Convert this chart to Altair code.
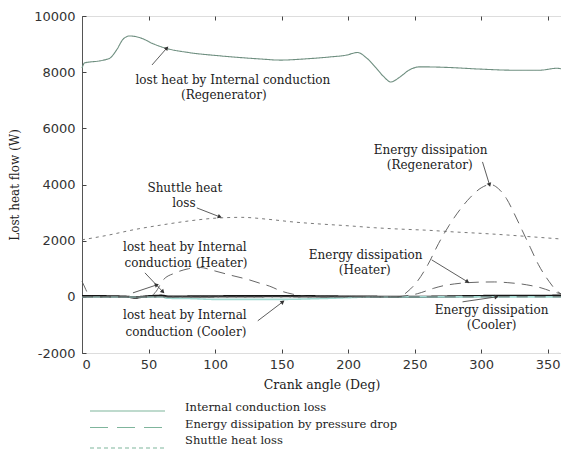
import math
import altair as alt
import pandas as pd

# ---- crank angle (deg) / heat flow (W) series ----
cond_regen_deg = [0, 2, 13, 18, 21, 26, 31, 36, 44, 54, 64, 80, 104, 134, 149, 170, 186, 199, 207,
                  214, 221, 227, 232, 239, 246, 254, 274, 299, 324, 344, 357, 360]
cond_regen_val = [8150, 8330, 8400, 8450, 8500, 8790, 9180, 9290, 9220, 9000, 8840, 8700, 8580, 8470,
                  8430, 8480, 8540, 8610, 8700, 8500, 8150, 7830, 7650, 7830, 8080, 8190, 8170, 8110,
                  8070, 8070, 8140, 8120]

cond_heater_deg = [0, 20, 35, 40, 45, 60, 65, 100, 150, 200, 250, 300, 360]
cond_heater_val = [30, 20, 0, -30, 0, 40, 10, 20, 30, 10, 0, 30, 40]

cond_cooler_deg = [0, 60, 64, 80, 100, 150, 180, 200, 215, 225, 360]
cond_cooler_val = [0, 0, -50, -60, -90, -90, -60, -30, -5, 0, 0]

diss_regen_deg = [0, 100, 200, 238, 245, 252, 260, 268, 276, 284, 292, 300, 307, 313, 319, 325,
                  331, 337, 343, 351, 356, 360]
diss_regen_val = [0, 0, 0, 0, 200, 550, 1150, 1900, 2550, 3100, 3550, 3880, 4000, 3850, 3500, 2950,
                  2350, 1750, 1150, 550, 250, 100]

diss_heater_deg = [0, 2, 4, 6, 9, 100, 200, 235, 245, 252, 258, 264, 272, 280, 290, 300, 310, 320,
                   334, 345, 354, 360]
diss_heater_val = [550, 350, 150, 50, 0, 0, 0, 0, 50, 110, 200, 300, 400, 460, 505, 525, 530, 505,
                   430, 320, 180, 110]

diss_cooler_deg = [0, 50, 55, 61, 70, 80, 88, 100, 111, 126, 134, 141, 150, 158, 165, 175, 360]
diss_cooler_val = [0, 0, 150, 600, 850, 1000, 1050, 920, 780, 600, 480, 380, 200, 100, 30, 0, 0]

shuttle_deg = [0, 20, 40, 60, 80, 100, 120, 140, 160, 180, 200, 220, 240, 260, 280, 300, 320, 340, 360]
shuttle_val = [2030, 2200, 2400, 2560, 2700, 2800, 2830, 2760, 2660, 2590, 2530, 2460, 2410, 2370,
               2310, 2260, 2200, 2130, 2060]

# legend groups
legend_labels = ["Internal conduction loss", "Energy dissipation by pressure drop", "Shuttle heat loss"]
legend_dash = [[1, 0], [18, 9], [4, 3]]

series = [
    ("cond_regen", legend_labels[0], cond_regen_deg, cond_regen_val),
    ("cond_heater", legend_labels[0], cond_heater_deg, cond_heater_val),
    ("cond_cooler", legend_labels[0], cond_cooler_deg, cond_cooler_val),
    ("diss_regen", legend_labels[1], diss_regen_deg, diss_regen_val),
    ("diss_heater", legend_labels[1], diss_heater_deg, diss_heater_val),
    ("diss_cooler", legend_labels[1], diss_cooler_deg, diss_cooler_val),
    ("shuttle", legend_labels[2], shuttle_deg, shuttle_val),
]
series_colors = ["#6f8f80", "#151515", "#a3d9d1", "#555555", "#555555", "#555555", "#6a6a6a"]
series_widths = [1.1, 2.2, 1.6, 0.9, 0.9, 0.9, 0.9]
series_dash = [[1, 0], [1, 0], [1, 0], [11, 7], [11, 7], [11, 7], [3, 4]]

rows = []
for (name, grp, degs, vals), col, sw, dash in zip(series, series_colors, series_widths, series_dash):
    for d, v in zip(degs, vals):
        rows.append({"series": name, "deg": d, "val": v, "col": col, "sw": sw, "dash": dash})
lines_df = pd.DataFrame(rows)

# annotation texts (centre positions in data units)
note_text = ["lost heat by Internal conduction", "(Regenerator)",
             "Shuttle heat", "loss",
             "lost heat by Internal", "conduction (Heater)",
             "lost heat by Internal", "conduction (Cooler)",
             "Energy dissipation", "(Regenerator)",
             "Energy dissipation", "(Heater)",
             "Energy dissipation", "(Cooler)"]
note_deg = [113.4, 106.6, 77.3, 76.6, 77.3, 78.1, 77.3, 78.1, 262.0, 261.3, 213.2, 212.5, 307.8, 307.8]
note_val = [7722, 7189, 3879, 3345, 1779, 1210, -641, -1246, 5231, 4698, 1495, 961, -463, -996]
notes_df = pd.DataFrame({"text": note_text, "deg": note_deg, "val": note_val})

# annotation arrows: tail -> head
arrow_deg0 = [52.6, 86.3, 38.3, 47.3, 132.1, 301.0, 262.8, 286.0]
arrow_val0 = [8256, 3167, 142, 854, -854, 4804, 1317, -178]
arrow_deg1 = [63.8, 103.6, 56.3, 60.8, 150.9, 306.3, 289.8, 311.6]
arrow_val1 = [8861, 2847, 427, 178, -178, 3986, 534, 0]

W, H = 479, 337
x_dom = [0, 360]
y_dom = [-2000, 10000]
px_x = W / (x_dom[1] - x_dom[0])
px_y = H / (y_dom[1] - y_dom[0])

heads = []
for x0, y0, x1, y1 in zip(arrow_deg0, arrow_val0, arrow_deg1, arrow_val1):
    dx = (x1 - x0) * px_x
    dy = -(y1 - y0) * px_y
    ang = math.degrees(math.atan2(dx, -dy)) % 360
    heads.append({"deg": x1, "val": y1, "angle": ang})
arrows_df = pd.DataFrame({"deg": arrow_deg0, "val": arrow_val0, "deg2": arrow_deg1, "val2": arrow_val1})
heads_df = pd.DataFrame(heads)

x_ticks = [0, 50, 100, 150, 200, 250, 300, 350]
y_ticks = [-2000, 0, 2000, 4000, 6000, 8000, 10000]

serif = "DejaVu Serif"
sans = "DejaVu Sans"

xs = alt.Scale(domain=x_dom, nice=False, zero=False)
ys = alt.Scale(domain=y_dom, nice=False, zero=False)

plain_label = "datum.value + ''"

lines = alt.Chart(lines_df).mark_line(interpolate="monotone").encode(
    x=alt.X("deg:Q", scale=xs, axis=alt.Axis(
        values=x_ticks, labelExpr=plain_label, title="Crank angle (Deg)", ticks=False, domain=False,
        grid=False, labelFont=sans, labelFontSize=13, labelColor="#333", labelPadding=5,
        titleFont=serif, titleFontSize=12.5, titleFontWeight="normal", titleColor="#222",
        titlePadding=7)),
    y=alt.Y("val:Q", scale=ys, axis=alt.Axis(
        values=y_ticks, labelExpr=plain_label, title="Lost heat flow (W)", ticks=False, domain=True,
        domainColor="#555", grid=False, labelFont=sans, labelFontSize=13, labelColor="#333",
        labelPadding=7, titleFont=serif, titleFontSize=12, titleFontWeight="normal",
        titleColor="#222", titlePadding=12)),
    detail="series:N",
    color=alt.Color("col:N", scale=None),
    strokeWidth=alt.StrokeWidth("sw:Q", scale=None),
    strokeDash=alt.StrokeDash("dash", scale=None),
)

notes = alt.Chart(notes_df).mark_text(font=serif, fontSize=12, color="#222",
                                      align="center", baseline="middle").encode(
    x=alt.X("deg:Q", scale=xs, axis=None),
    y=alt.Y("val:Q", scale=ys, axis=None),
    text="text:N",
)

arrows = alt.Chart(arrows_df).mark_rule(color="#333", strokeWidth=0.8).encode(
    x=alt.X("deg:Q", scale=xs, axis=None), x2="deg2:Q",
    y=alt.Y("val:Q", scale=ys, axis=None), y2="val2:Q",
)

arrow_heads = alt.Chart(heads_df).mark_point(shape="triangle-up", filled=True, size=22,
                                             color="#333", opacity=1).encode(
    x=alt.X("deg:Q", scale=xs, axis=None),
    y=alt.Y("val:Q", scale=ys, axis=None),
    angle=alt.Angle("angle:Q", scale=None),
)

# legend below the axis: one row per line style
legend_df = pd.DataFrame({"label": legend_labels, "row": list(range(len(legend_labels))),
                          "dash": legend_dash})
legend_base = alt.Chart(legend_df).transform_calculate(
    ty="392 + 16.5 * datum.row",
    sy="395 + 16.5 * datum.row + (datum.row == 2 ? 4 : 0)",
)
legend_lines = legend_base.mark_rule(color="#7fb59c", strokeWidth=1.1).encode(
    x=alt.value(8), x2=alt.value(83),
    y=alt.Y("sy:Q", scale=None, axis=None),
    strokeDash=alt.StrokeDash("dash", scale=None),
)
legend_text = legend_base.mark_text(font=serif, fontSize=11.5, color="#222", align="left",
                                    baseline="middle").encode(
    x=alt.value(103),
    y=alt.Y("ty:Q", scale=None, axis=None),
    text="label:N",
)

tick_df = pd.DataFrame({"deg": [0], "val": [0]})
# inward ticks along the bottom and left edges
ticks_a = alt.Chart(tick_df).mark_point(opacity=0).encode(
    x=alt.X("deg:Q", scale=xs, axis=alt.Axis(orient="top", offset=-H, values=x_ticks, labels=False,
                                             domain=False, grid=False, title=None, tickSize=4,
                                             tickColor="#444")),
    y=alt.Y("val:Q", scale=ys, axis=alt.Axis(orient="right", offset=-W, values=y_ticks, labels=False,
                                             domain=False, grid=False, title=None, tickSize=4,
                                             tickColor="#444")),
)
# inward ticks along the top edge
ticks_b = alt.Chart(tick_df).mark_point(opacity=0).encode(
    x=alt.X("deg:Q", scale=xs, axis=alt.Axis(orient="bottom", offset=-H, values=x_ticks, labels=False,
                                             domain=False, grid=False, title=None, tickSize=4,
                                             tickColor="#444")),
    y=alt.Y("val:Q", scale=ys, axis=None),
)

chart = alt.layer(lines, arrows, arrow_heads, notes, legend_lines, legend_text,
                  ticks_a, ticks_b).resolve_axis(
    x="independent", y="independent"
).properties(
    width=W, height=H,
    autosize=alt.AutoSizeParams(type="none"),
    padding={"left": 82, "top": 16, "right": 0, "bottom": 97},
).configure_view(
    stroke="#8a8a8a", strokeWidth=1
).configure(background="white")

chart.save("out.html", embed_options={"renderer": "svg", "actions": False})
